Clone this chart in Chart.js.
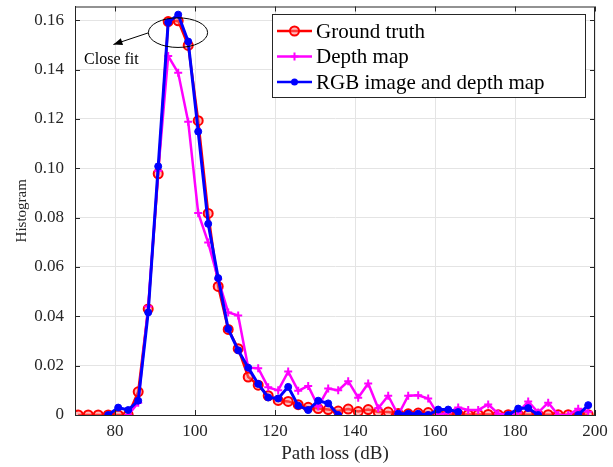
<!DOCTYPE html>
<html>
<head>
<meta charset="utf-8">
<script src="https://cdn.jsdelivr.net/npm/chart.js@4.4.1/dist/chart.umd.min.js"></script>
<style>
  html, body { margin: 0; padding: 0; background: #fff; }
</style>
</head>
<body>
<canvas id="myChart" width="613" height="467"></canvas>
<script>
// bin centres (dB)
const pathLoss = [70.8, 73.3, 75.8, 78.3, 80.8, 83.3, 85.8, 88.3, 90.8, 93.3, 95.8, 98.3,
  100.8, 103.3, 105.8, 108.3, 110.8, 113.3, 115.8, 118.3, 120.8, 123.3, 125.8, 128.3,
  130.8, 133.3, 135.8, 138.3, 140.8, 143.3, 145.8, 148.3, 150.8, 153.3, 155.8, 158.3,
  160.8, 163.3, 165.8, 168.3, 170.8, 173.3, 175.8, 178.3, 180.8, 183.3, 185.8, 188.3,
  190.8, 193.3, 195.8, 198.3];

const groundTruth = [0, 0, 0, 0, 0, 0, 0.0094, 0.043, 0.0978, 0.1595, 0.1598, 0.1498,
  0.1193, 0.0817, 0.0521, 0.0347, 0.0269, 0.0154, 0.0121, 0.0078, 0.0059, 0.0055, 0.0042, 0.0031,
  0.0026, 0.0022, 0.0016, 0.0024, 0.0014, 0.0022, 0.0012, 0.0012, 0.0006, 0.0005, 0.0008, 0.001,
  0.0005, 0.0005, 0.0003, 0.0002, 0.0002, 0.0002, 0.0001, 0.0001, 0.0002, 0.0001, 0.0001, 0.0001,
  0.0001, 0.0001, 0.0001, 0.0001];

const depthMap = [null, null, null, null, null, 0, 0.005, 0.044, 0.099, 0.1455, 0.1387, 0.1189,
  0.0819, 0.0699, 0.055, 0.0416, 0.0403, 0.0192, 0.019, 0.0112, 0.010, 0.0176, 0.0098, 0.0118,
  0.0034, 0.0107, 0.010, 0.0137, 0.007, 0.0128, 0.0027, 0.0078, 0, 0.0078, 0.008, 0.0067,
  0, 0.001, 0.003, 0.002, 0.002, 0.0043, 0.0005, 0, 0.001, 0.0055, 0.001, 0.005,
  0, 0, 0.0025, 0.0013];

const rgbDepth = [null, null, null, 0, 0.003, 0.002, 0.0058, 0.0416, 0.1008, 0.1592, 0.1623, 0.1514,
  0.1149, 0.0775, 0.0555, 0.0349, 0.0262, 0.0192, 0.0126, 0.0071, 0.0067, 0.0114, 0.0038, 0.002,
  0.0058, 0.0047, 0, null, null, null, null, null, 0.0005, 0.0005, 0.0005, 0,
  0.0022, 0.0022, 0.0012, null, null, null, null, 0, 0.0026, 0.0028, 0, null,
  null, null, 0, 0.004];

const xTicks = [80, 100, 120, 140, 160, 180, 200];
const yTicks = [0, 0.02, 0.04, 0.06, 0.08, 0.1, 0.12, 0.14, 0.16];

// "Close fit" note, in data units
const noteCentre = [95.75, 0.155];
const noteRadius = [7.4, 0.006];
const arrowFrom = [88.3, 0.1549];
const arrowTo = [79.6, 0.1502];
const noteText = [79.1, 0.1438];

const serif = '"Liberation Serif", "Times New Roman", serif';
const ink = '#262626';

const toPoints = vals => vals.map((v, i) => ({ x: pathLoss[i], y: v }));

const legendItems = [
  { label: 'Ground truth', color: '#ff0000', marker: 'circle' },
  { label: 'Depth map', color: '#ff00ff', marker: 'cross' },
  { label: 'RGB image and depth map', color: '#0000ff', marker: 'dot' }
];

function drawMarker(c, kind, color, x, y) {
  c.save();
  c.strokeStyle = color;
  c.fillStyle = color;
  c.lineWidth = 2;
  c.beginPath();
  if (kind === 'circle') {
    c.arc(x, y, 4.5, 0, Math.PI * 2);
    c.fillStyle = 'rgba(255,120,120,0.5)';
    c.fill();
    c.stroke();
  } else if (kind === 'cross') {
    c.moveTo(x - 4, y); c.lineTo(x + 4, y);
    c.moveTo(x, y - 4); c.lineTo(x, y + 4);
    c.stroke();
  } else {
    c.arc(x, y, 3.5, 0, Math.PI * 2);
    c.fill();
  }
  c.restore();
}

const extras = {
  id: 'extras',
  afterDraw(chart) {
    const c = chart.ctx;
    const { left, right, top, bottom } = chart.chartArea;
    const xs = chart.scales.x, ys = chart.scales.y;

    // box around axes with inner ticks
    c.save();
    c.strokeStyle = ink;
    c.lineWidth = 1;
    c.strokeRect(left + 0.5, top + 0.5, right - left - 1, bottom - top);
    c.beginPath();
    xTicks.forEach(v => {
      const px = Math.round(xs.getPixelForValue(v)) + 0.5;
      c.moveTo(px, bottom); c.lineTo(px, bottom - 5);
      c.moveTo(px, top); c.lineTo(px, top + 5);
    });
    yTicks.forEach(v => {
      const py = Math.round(ys.getPixelForValue(v)) + 0.5;
      c.moveTo(left, py); c.lineTo(left + 5, py);
      c.moveTo(right, py); c.lineTo(right - 5, py);
    });
    c.stroke();

    // legend
    const lx = 272, ly = 14, lw = 313, lh = 83;
    c.fillStyle = '#fff';
    c.fillRect(lx, ly, lw, lh);
    c.strokeStyle = ink;
    c.strokeRect(lx + 0.5, ly + 0.5, lw, lh);
    c.font = '21px ' + serif;
    c.textBaseline = 'middle';
    c.textAlign = 'left';
    legendItems.forEach((it, i) => {
      const y = 31 + i * 25.5;
      c.strokeStyle = it.color;
      c.lineWidth = 2.5;
      c.beginPath();
      c.moveTo(277, y); c.lineTo(312, y);
      c.stroke();
      drawMarker(c, it.marker, it.color, 294.5, y);
      c.fillStyle = '#000';
      c.fillText(it.label, 316, y + 1);
    });

    // "Close fit" ellipse and arrow
    const cx = xs.getPixelForValue(noteCentre[0]);
    const cy = ys.getPixelForValue(noteCentre[1]);
    const rx = xs.getPixelForValue(noteCentre[0] + noteRadius[0]) - cx;
    const ry = cy - ys.getPixelForValue(noteCentre[1] + noteRadius[1]);
    c.strokeStyle = '#000';
    c.lineWidth = 1;
    c.beginPath();
    c.ellipse(cx, cy, rx, ry, 0, 0, Math.PI * 2);
    c.stroke();

    const ax0 = xs.getPixelForValue(arrowFrom[0]), ay0 = ys.getPixelForValue(arrowFrom[1]);
    const ax1 = xs.getPixelForValue(arrowTo[0]), ay1 = ys.getPixelForValue(arrowTo[1]);
    const ang = Math.atan2(ay1 - ay0, ax1 - ax0);
    c.beginPath();
    c.moveTo(ax0, ay0); c.lineTo(ax1, ay1);
    c.stroke();
    c.fillStyle = '#000';
    c.beginPath();
    c.moveTo(ax1, ay1);
    c.lineTo(ax1 - 9 * Math.cos(ang) + 3.5 * Math.sin(ang), ay1 - 9 * Math.sin(ang) - 3.5 * Math.cos(ang));
    c.lineTo(ax1 - 9 * Math.cos(ang) - 3.5 * Math.sin(ang), ay1 - 9 * Math.sin(ang) + 3.5 * Math.cos(ang));
    c.closePath();
    c.fill();

    c.font = '16px ' + serif;
    c.textAlign = 'center';
    c.fillText('Close fit', xs.getPixelForValue(noteText[0]), ys.getPixelForValue(noteText[1]));
    c.restore();
  }
};

const ctx = document.getElementById('myChart').getContext('2d');
const myChart = new Chart(ctx, {
  type: 'line',
  data: {
    datasets: [{
      label: 'Ground truth',
      data: toPoints(groundTruth),
      borderColor: '#ff0000',
      borderWidth: 2.5,
      pointStyle: 'circle',
      pointRadius: 4.5,
      pointBorderWidth: 2,
      pointBackgroundColor: 'rgba(255,120,120,0.5)',
      order: 3
    }, {
      label: 'Depth map',
      data: toPoints(depthMap),
      borderColor: '#ff00ff',
      borderWidth: 2.5,
      pointStyle: 'cross',
      pointRadius: 4,
      pointBorderWidth: 2,
      order: 2
    }, {
      label: 'RGB image and depth map',
      data: toPoints(rgbDepth),
      borderColor: '#0000ff',
      backgroundColor: '#0000ff',
      borderWidth: 3,
      pointRadius: 3.5,
      pointBorderWidth: 1,
      order: 1
    }]
  },
  options: {
    responsive: false,
    animation: false,
    layout: { padding: { top: 4, right: 18, left: 0, bottom: 0 } },
    plugins: {
      legend: { display: false },
      tooltip: { enabled: false }
    },
    scales: {
      x: {
        type: 'linear',
        min: 70,
        max: 200,
        afterBuildTicks: s => { s.ticks = xTicks.map(v => ({ value: v })); },
        afterFit: s => { s.height = 52; s.paddingLeft = 0; s.paddingRight = 0; },
        grid: { color: '#e4e4e4', drawTicks: false },
        border: { color: ink },
        ticks: { font: { family: serif, size: 17 }, color: ink, padding: 6, maxRotation: 0, autoSkip: false },
        title: { display: true, text: 'Path loss (dB)', font: { family: serif, size: 19 }, color: ink, padding: { bottom: 2 } }
      },
      y: {
        min: 0,
        max: 0.1656,
        afterBuildTicks: s => { s.ticks = yTicks.map(v => ({ value: v })); },
        afterFit: s => { s.width = 75; s.paddingTop = 0; s.paddingBottom = 0; },
        grid: { color: '#e4e4e4', drawTicks: false },
        border: { color: ink },
        ticks: { font: { family: serif, size: 17 }, color: ink, padding: 11, autoSkip: false },
        title: { display: true, text: 'Histogram', font: { family: serif, size: 15 }, color: ink, padding: { top: 13 } }
      }
    }
  },
  plugins: [extras]
});
</script>
</body>
</html>
